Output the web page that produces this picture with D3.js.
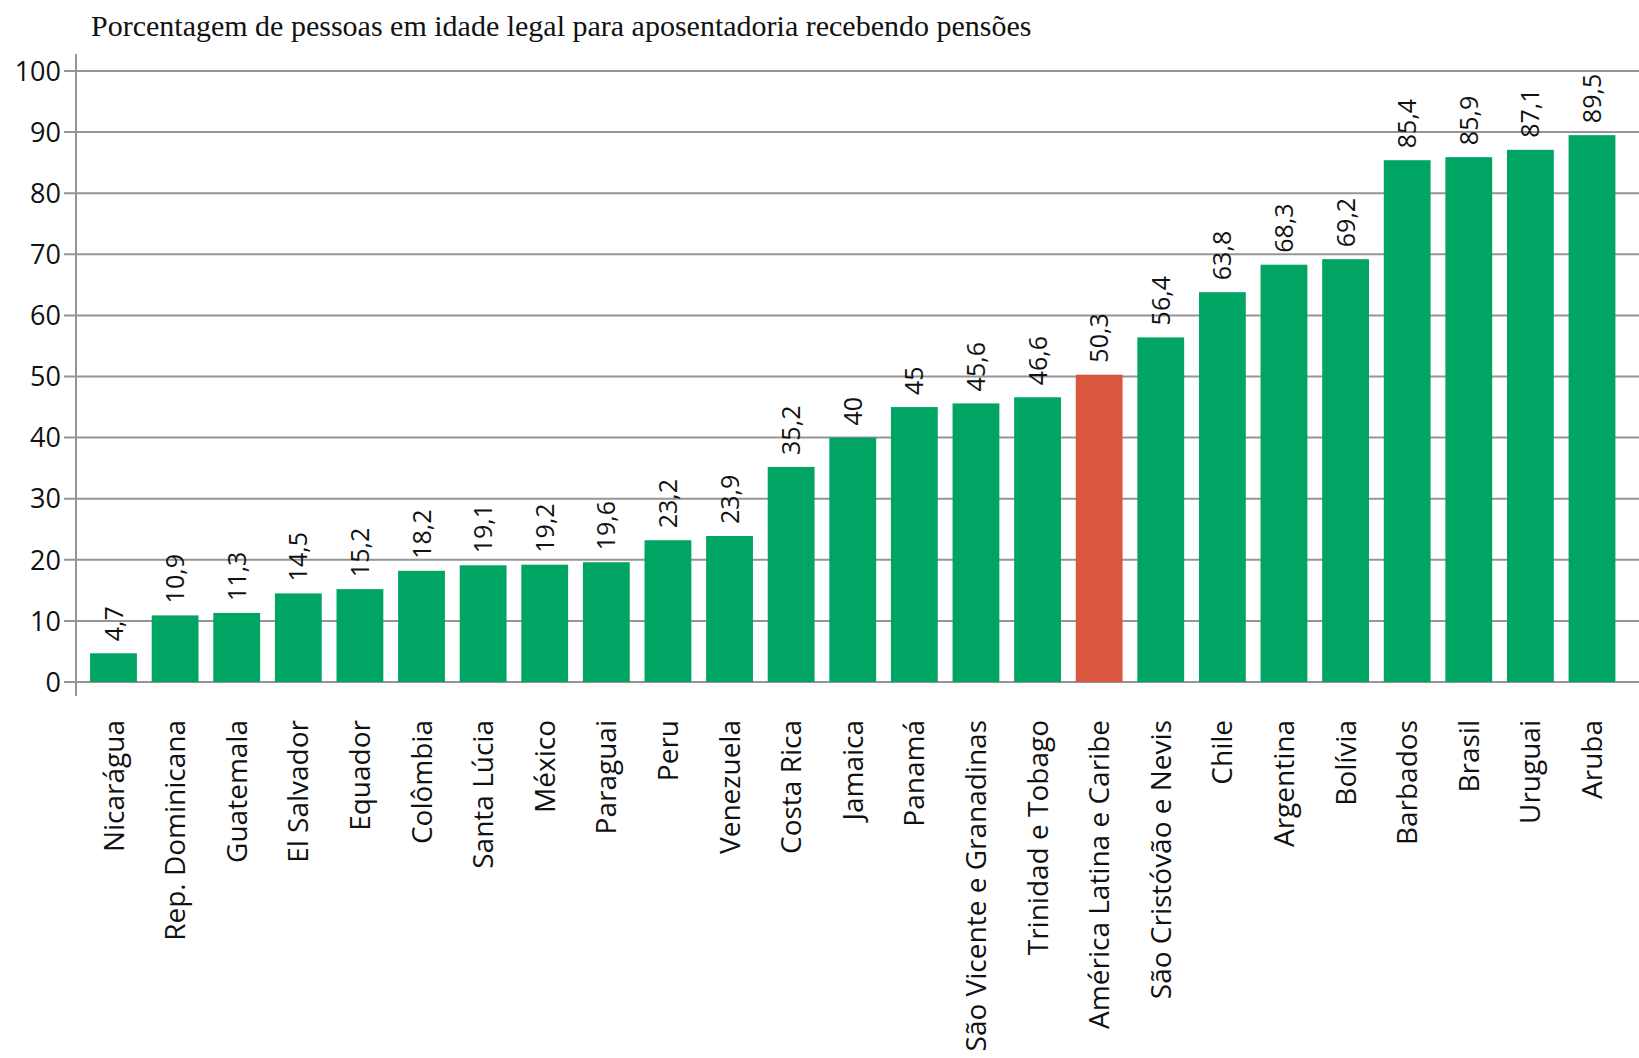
<!DOCTYPE html>
<html>
<head>
<meta charset="utf-8">
<script src="https://cdn.jsdelivr.net/npm/d3@7"></script>
<style>
  body { margin: 0; background: #fff; }
  svg { display: block; }
</style>
</head>
<body>
<svg id="chart" width="1639" height="1058"></svg>
<script>
const svg = d3.select("#chart");
const width = +svg.attr("width");
const height = +svg.attr("height");

const titleText = "Porcentagem de pessoas em idade legal para aposentadoria recebendo pensões";

const countries = [
  "Nicarágua", "Rep. Dominicana", "Guatemala", "El Salvador", "Equador",
  "Colômbia", "Santa Lúcia", "México", "Paraguai", "Peru", "Venezuela",
  "Costa Rica", "Jamaica", "Panamá", "São Vicente e Granadinas",
  "Trinidad e Tobago", "América Latina e Caribe", "São Cristóvão e Nevis",
  "Chile", "Argentina", "Bolívia", "Barbados", "Brasil", "Uruguai", "Aruba"
];
const values = [
  4.7, 10.9, 11.3, 14.5, 15.2, 18.2, 19.1, 19.2, 19.6, 23.2, 23.9,
  35.2, 40, 45, 45.6, 46.6, 50.3, 56.4, 63.8, 68.3, 69.2, 85.4, 85.9, 87.1, 89.5
];
const highlight = "América Latina e Caribe";
const yTicks = [0, 10, 20, 30, 40, 50, 60, 70, 80, 90, 100];

const data = countries.map((c, i) => ({ name: c, value: values[i] }));

const axisX = 76;
const y = d3.scaleLinear().domain([0, 100]).range([682, 71]);
const x = d3.scaleBand()
  .domain(countries)
  .range([82.7, 1622.8])
  .paddingInner(0.24)
  .paddingOuter(0.12);

const green = "#00a563";
const red = "#d9573f";
const gridColor = "#959595";
const sans = "'Open Sans', sans-serif";

// titulo
svg.append("text")
  .attr("x", 91)
  .attr("y", 36)
  .style("font-family", "'Liberation Serif', 'DejaVu Serif', serif")
  .style("font-size", "30px")
  .style("fill", "#111")
  .text(titleText);

// linhas de grade
svg.append("g")
  .selectAll("line")
  .data(yTicks)
  .join("line")
  .attr("x1", axisX - 12)
  .attr("x2", width)
  .attr("y1", d => y(d))
  .attr("y2", d => y(d))
  .attr("stroke", gridColor)
  .attr("stroke-width", 2);

// eixo vertical
svg.append("line")
  .attr("x1", axisX).attr("x2", axisX)
  .attr("y1", 54).attr("y2", 696)
  .attr("stroke", gridColor)
  .attr("stroke-width", 2);

// rotulos do eixo y
svg.append("g")
  .selectAll("text")
  .data(yTicks)
  .join("text")
  .attr("x", axisX - 15)
  .attr("y", d => y(d))
  .attr("dy", "0.36em")
  .attr("text-anchor", "end")
  .style("font-family", sans)
  .style("font-size", "27px")
  .style("fill", "#111")
  .text(d => d);

// barras
svg.append("g")
  .selectAll("rect")
  .data(data)
  .join("rect")
  .attr("x", d => x(d.name))
  .attr("width", x.bandwidth())
  .attr("y", d => y(d.value))
  .attr("height", d => y(0) - y(d.value))
  .attr("fill", d => d.name === highlight ? red : green);

// valores
svg.append("g")
  .selectAll("text")
  .data(data)
  .join("text")
  .attr("transform", d => `translate(${x(d.name) + x.bandwidth() / 2},${y(d.value) - 12}) rotate(-90)`)
  .attr("dy", "0.36em")
  .attr("text-anchor", "start")
  .style("font-family", sans)
  .style("font-size", "25px")
  .style("fill", "#111")
  .text(d => String(d.value).replace(".", ","));

// nomes dos paises
svg.append("g")
  .selectAll("text")
  .data(data)
  .join("text")
  .attr("transform", d => `translate(${x(d.name) + x.bandwidth() / 2},720) rotate(-90)`)
  .attr("dy", "0.36em")
  .attr("text-anchor", "end")
  .style("font-family", sans)
  .style("font-size", "28px")
  .style("fill", "#111")
  .text(d => d.name);
</script>
</body>
</html>
